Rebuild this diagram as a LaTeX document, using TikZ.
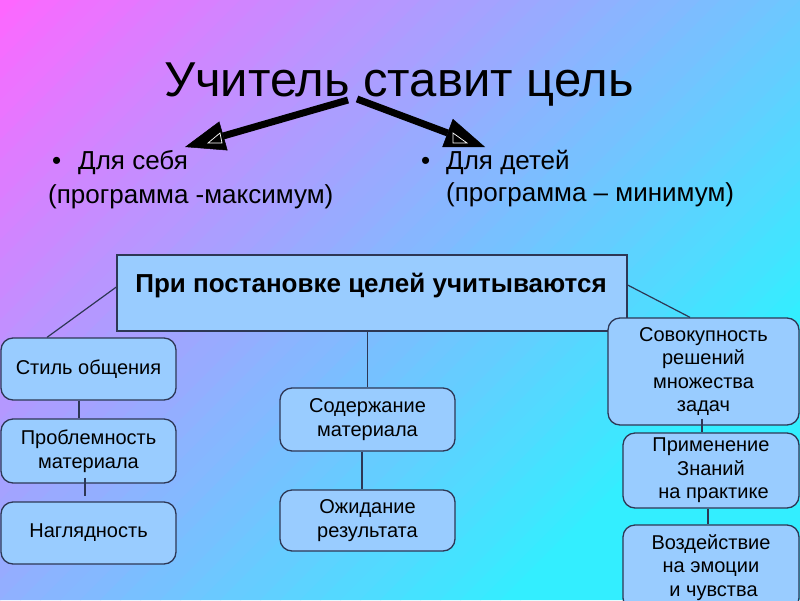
\documentclass[tikz,border=0pt]{standalone}
\usepackage{fontspec}
\setmainfont{Liberation Sans}
\usetikzlibrary{arrows.meta}
\definecolor{magbg}{RGB}{255,102,255}
\definecolor{cyanbg}{RGB}{51,238,255}
\definecolor{boxfill}{RGB}{153,204,255}
\definecolor{boxline}{RGB}{45,55,85}
\begin{document}
\begin{tikzpicture}[x=1pt,y=-1pt,
  rbox/.style={draw=boxline, line width=1.3pt, fill=boxfill, rounded corners=12pt,
    inner sep=0pt, font=\fontsize{20}{23.5}\selectfont, align=center},
  mbox/.style={draw=boxline, line width=1.3pt, fill=boxfill, inner sep=0pt},
  conn/.style={draw=boxline, line width=1.2pt},
  bigarrow/.style={line width=7pt, -{Triangle[length=40pt,width=30pt,line width=0.5pt]}},
  bullettext/.style={anchor=base west, inner sep=0pt, font=\fontsize{26}{30}\selectfont},
  titletext/.style={anchor=base, inner sep=0pt, font=\fontsize{49}{55}\selectfont},
  headtext/.style={anchor=base, inner sep=0pt, font=\fontsize{26}{30}\selectfont\bfseries}]
\useasboundingbox (0,0) rectangle (800,600);
% background gradient
\begin{scope}
\clip (0,0) rectangle (800,600);
\foreach \i in {0,...,55} {
  \pgfmathtruncatemacro\p{100*(1-(20*\i+10)/1120)}
  \fill[magbg!\p!cyanbg] ({20*\i},0) -- ({20*\i+21},0) -- ({20*\i+21-600},600) -- ({20*\i-600},600) -- cycle;
}
\fill[cyanbg] (1120,0) -- (1500,0) -- (900,600) -- (520,600) -- cycle;
\end{scope}
% title and arrows
\node[titletext] (title) at (399,96) {Учитель ставит цель};
\coordinate (la) at (348,100);
\coordinate (lt) at (185,147);
\coordinate (ra) at (357,99);
\coordinate (rt) at (485,147);
\draw[bigarrow] (la) -- (lt);
\draw[bigarrow] (ra) -- (rt);
\draw[white, line width=0.7pt] (208,143) -- (220,133) -- (222,143) -- cycle;
\draw[white, line width=0.7pt] (453,133) -- (467,143) -- (453,143) -- cycle;
% bullets
\node[bullettext] (lb) at (52,169) {•};
\node[bullettext] (l1) at (78,169) {Для себя};
\node[bullettext] (l2) at (48,203) {(программа -максимум)};
\node[bullettext] (rb) at (421,169) {•};
\node[bullettext] (r1) at (446,169) {Для детей};
\node[bullettext] (r2) at (446,201) {(программа – минимум)};
% main box
\node[mbox, minimum width=510pt, minimum height=76pt] (main) at (372,293) {};
\node[headtext] (mainlabel) at (371,292) {При постановке целей учитываются};
% left column
\node[rbox, minimum width=175pt, minimum height=62pt] (stil) at (88.5,369) {Стиль общения};
\node[rbox, minimum width=175pt, minimum height=64pt] (probl) at (88.5,451) {Проблемность\\материала};
\node[rbox, minimum width=175pt, minimum height=62pt] (nagl) at (88.5,533) {Наглядность};
% middle column
\node[rbox, minimum width=175pt, minimum height=63pt] (soder) at (367.5,419.5) {Содержание\\материала};
\node[rbox, minimum width=175pt, minimum height=61pt] (ozhid) at (367.5,520.5) {Ожидание\\результата};
% right column
\node[rbox, minimum width=191pt, minimum height=107pt] (sovok) at (703.5,371.5) {Совокупность\\решений\\множества\\задач};
\node[rbox, minimum width=176pt, minimum height=75pt] (prim) at (711,470.5) {Применение\\Знаний\\\hspace*{5pt}на практике};
\node[rbox, minimum width=176pt, minimum height=85pt] (vozd) at (711,567.5) {Воздействие\\на эмоции\\\hspace*{5pt}и чувства};
% connectors
\draw[conn] ([yshift=6pt]main.west) -- ([xshift=-41.5pt]stil.north);
\draw[conn] ([yshift=8pt]main.east) -- ([xshift=-13.5pt]sovok.north);
\draw[conn] (soder.north |- main.south) -- (soder.north);
\draw[conn] ([xshift=-9.5pt]stil.south) -- ([xshift=-9.5pt]probl.north);
\draw[conn] ([xshift=-3.5pt,yshift=6pt]probl.south) -- ([xshift=-3.5pt,yshift=-12pt]probl.south);
\draw[conn] ([xshift=-5.5pt]soder.south) -- ([xshift=-5.5pt]ozhid.north);
\draw[conn] ([xshift=-1.5pt,yshift=7pt]sovok.south) -- ([xshift=-9pt]prim.north);
\draw[conn] ([xshift=-3pt]prim.south) -- ([xshift=-3pt]vozd.north);
\end{tikzpicture}
\end{document}
